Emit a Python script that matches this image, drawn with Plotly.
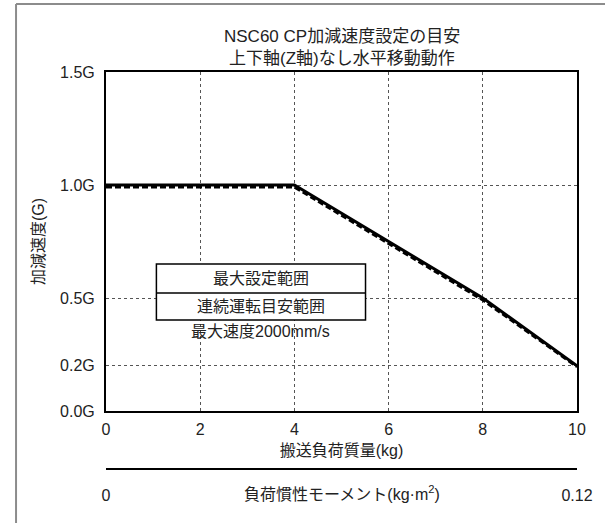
import plotly.graph_objects as go

# 搬送負荷質量 (kg) と加減速度 (G)
mass_kg = [0, 4, 8, 10]
accel_max = [1.0, 1.0, 0.5, 0.2]          # 最大設定範囲
accel_cont = [0.99, 0.99, 0.49, 0.195]    # 連続運転目安範囲

y_ticks = [0.0, 0.2, 0.5, 1.0, 1.5]
y_ticktext = ["0.0G", "0.2G", "0.5G", "1.0G", "1.5G"]
x_ticks = [0, 2, 4, 6, 8, 10]

inertia_ticks = [0, 0.12]

FONT = "Liberation Sans, Noto Sans CJK JP, sans-serif"
GRID = "#555555"

fig = go.Figure()

fig.add_trace(go.Scatter(x=mass_kg, y=accel_max, mode="lines",
                         line=dict(color="black", width=3),
                         hoverinfo="skip", showlegend=False))
fig.add_trace(go.Scatter(x=mass_kg, y=accel_cont, mode="lines",
                         line=dict(color="black", width=2.5, dash="6px,3px"),
                         hoverinfo="skip", showlegend=False))
# 2本目のx軸(負荷慣性モーメント)を描かせるためのダミー
fig.add_trace(go.Scatter(x=inertia_ticks, y=[None, None], xaxis="x2",
                         mode="lines", hoverinfo="skip", showlegend=False))

fig.update_layout(
    width=605, height=523,
    margin=dict(l=106, r=22, t=72, b=54),
    paper_bgcolor="white", plot_bgcolor="white",
    font=dict(family=FONT, size=16, color="#222222"),
    xaxis=dict(range=[0, 10], tickvals=x_ticks, showgrid=True, gridcolor=GRID,
               griddash="3px,3px", gridwidth=1, zeroline=False,
               showline=True, linecolor="black", linewidth=2, mirror=True,
               ticks="", tickfont=dict(size=16), ticklabelstandoff=3, anchor="y",
               title=dict(text="搬送負荷質量(kg)", font=dict(size=16), standoff=8)),
    yaxis=dict(range=[0, 1.5], tickvals=y_ticks, ticktext=y_ticktext,
               domain=[0.146, 1], showgrid=True, gridcolor=GRID,
               griddash="3px,3px", gridwidth=1, zeroline=False,
               showline=True, linecolor="black", linewidth=2, mirror=True,
               ticks="", tickfont=dict(size=16), ticklabelstandoff=6,
               title=dict(text="加減速度(G)", font=dict(size=16), standoff=12)),
    xaxis2=dict(range=[0, 0.12], tickvals=inertia_ticks, ticktext=["0", "0.12"],
                overlaying="x", anchor="free", position=0, side="bottom",
                showgrid=False, zeroline=False,
                showline=True, linecolor="black", linewidth=2,
                ticks="inside", ticklen=4, tickwidth=2, tickcolor="black",
                tickfont=dict(size=16), ticklabelstandoff=12),
)

# 凡例の枠
fig.add_shape(type="rect", xref="x", yref="y", x0=1.07, x1=5.51, y0=0.403, y1=0.65,
              line=dict(color="black", width=1.5), fillcolor="white", layer="above")
fig.add_shape(type="line", xref="x", yref="y", x0=1.07, x1=5.51, y0=0.522, y1=0.522,
              line=dict(color="black", width=1.5), layer="above")
fig.add_annotation(x=3.29, y=0.586, xref="x", yref="y", text="最大設定範囲",
                   showarrow=False, yanchor="middle", font=dict(size=16))
fig.add_annotation(x=3.29, y=0.462, xref="x", yref="y", text="連続運転目安範囲",
                   showarrow=False, yanchor="middle", font=dict(size=16))
fig.add_annotation(x=3.29, y=0.354, xref="x", yref="y", text="最大速度2000mm/s",
                   showarrow=False, yanchor="middle", font=dict(size=16))

# タイトル
fig.add_annotation(x=0.5, y=1.0, xref="paper", yref="paper", yshift=36,
                   yanchor="middle", text="NSC60 CP加減速度設定の目安",
                   showarrow=False, font=dict(size=17))
fig.add_annotation(x=0.5, y=1.0, xref="paper", yref="paper", yshift=14,
                   yanchor="middle", text="上下軸(Z軸)なし水平移動動作",
                   showarrow=False, font=dict(size=17))

# 負荷慣性モーメント軸のタイトル
fig.add_annotation(x=0.5, y=0, xref="paper", yref="paper", yshift=-24,
                   yanchor="middle", text="負荷慣性モーメント(kg·m<sup>2</sup>)",
                   showarrow=False, font=dict(size=16))

# 外枠(左と上)
fig.add_shape(type="line", xref="paper", yref="paper", x0=-0.191, x1=-0.191,
              y0=1.171, y1=-0.2, line=dict(color="#8c8c8c", width=2), layer="above")
fig.add_shape(type="line", xref="paper", yref="paper", x0=-0.191, x1=1.1,
              y0=1.171, y1=1.171, line=dict(color="#8c8c8c", width=2), layer="above")

fig.write_html("out.html", config={"displayModeBar": False},
               post_script="document.body.style.margin='0';")
